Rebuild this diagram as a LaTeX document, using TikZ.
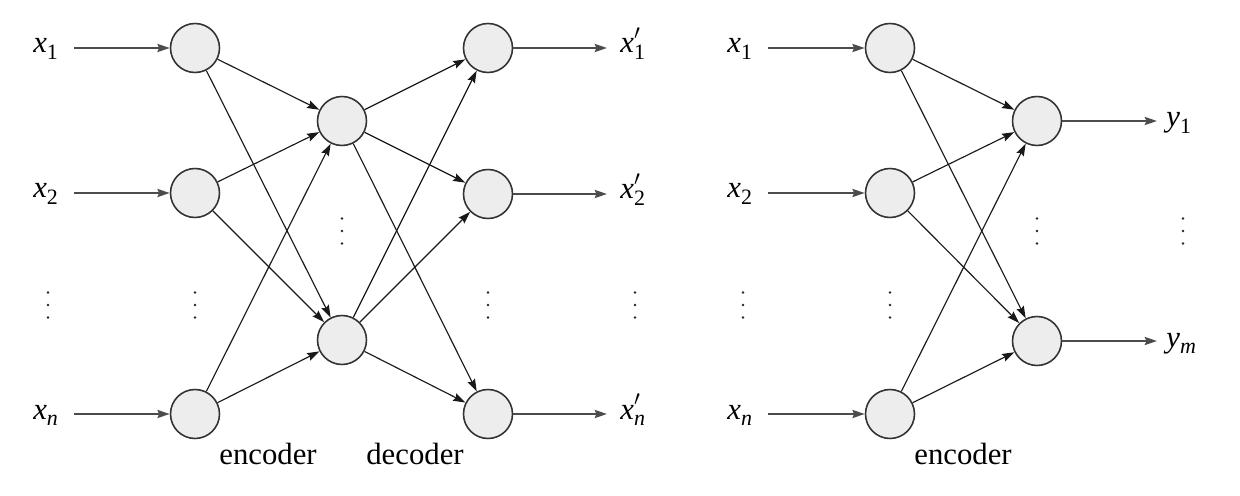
\documentclass[tikz,border=0pt]{standalone}
\usepackage{fontspec}
\setmainfont{Liberation Serif}
\usetikzlibrary{arrows.meta}

% variable with lowered index, and with prime + index
\newcommand{\var}[2]{\textit{#1}\raisebox{-0.45ex}{\fontsize{12.5}{13}\selectfont #2}}
\newcommand{\pvar}[2]{\textit{#1}\makebox[0pt][l]{\raisebox{0.95ex}{\fontsize{13}{13}\selectfont$\prime$}}\raisebox{-0.45ex}{\fontsize{12.5}{13}\selectfont #2}}
% vertical ellipsis made of three dots, centred at (#1,#2)
\newcommand{\dotcol}[2]{%
  \foreach \dy in {-12.5,0,12.5} {\fill[black!85] (#1,#2+\dy) circle (1.4);}}

\tikzset{
  neuron/.style={circle, draw=black!80, line width=0.9pt, fill=black!7,
                 minimum size=0.98cm, inner sep=0pt},
  edge/.style={draw=black!90, line width=0.65pt,
               -{Stealth[length=7pt,width=4.6pt,inset=1pt]}},
  inarrow/.style={draw=black!70, line width=1.1pt,
               -{Stealth[length=7pt,width=4.6pt,inset=1pt]}},
  lab/.style={anchor=base west, inner sep=0pt, font=\fontsize{17.5}{20}\selectfont},
  caption/.style={anchor=base, inner sep=0pt, font=\fontsize{17.5}{20}\selectfont},
}

\begin{document}
\begin{tikzpicture}[x=0.02cm,y=-0.02cm]
\useasboundingbox (0,0) rectangle (1240,496);

% ---------------- autoencoder ----------------
\node[neuron] (i1) at (195,48) {};
\node[neuron] (i2) at (195,193) {};
\node[neuron] (i3) at (195,414) {};
\node[neuron] (h1) at (342,121) {};
\node[neuron] (h2) at (342,340) {};
\node[neuron] (o1) at (488,48) {};
\node[neuron] (o2) at (488,194) {};
\node[neuron] (o3) at (488,414) {};

\node[lab] (lx1) at (33,53)  {\var{x}{1}};
\node[lab] (lx2) at (33,198) {\var{x}{2}};
\node[lab] (lxn) at (33,419) {\var{x}{\textit{n}}};
\coordinate (s1) at (74,48);
\coordinate (s2) at (74,193);
\coordinate (s3) at (74,414);
\draw[inarrow] (s1) -- (i1);
\draw[inarrow] (s2) -- (i2);
\draw[inarrow] (s3) -- (i3);

\foreach \a in {i1,i2,i3} \foreach \b in {h1,h2} \draw[edge] (\a) -- (\b);
\foreach \a in {h1,h2} \foreach \b in {o1,o2,o3} \draw[edge] (\a) -- (\b);

\coordinate (e1) at (607,48);
\coordinate (e2) at (607,194);
\coordinate (e3) at (607,414);
\draw[inarrow] (o1) -- (e1);
\draw[inarrow] (o2) -- (e2);
\draw[inarrow] (o3) -- (e3);
\node[lab] (ly1) at (620,53)  {\pvar{x}{1}};
\node[lab] (ly2) at (620,199) {\pvar{x}{2}};
\node[lab] (lyn) at (620,419) {\pvar{x}{\textit{n}}};

\dotcol{48}{305}
\dotcol{195}{305}
\dotcol{342}{231}
\dotcol{488}{305}
\dotcol{635}{305}

\node[caption] (enc1) at (268,464) {encoder};
\node[caption] (dec1) at (415,464) {decoder};

% ---------------- encoder only ----------------
\node[neuron] (r1) at (890,48) {};
\node[neuron] (r2) at (890,193) {};
\node[neuron] (r3) at (890,414) {};
\node[neuron] (q1) at (1037,121) {};
\node[neuron] (q2) at (1037,341) {};

\node[lab] (rx1) at (727,53)  {\var{x}{1}};
\node[lab] (rx2) at (727,198) {\var{x}{2}};
\node[lab] (rxn) at (727,419) {\var{x}{\textit{n}}};
\coordinate (t1) at (768,48);
\coordinate (t2) at (768,193);
\coordinate (t3) at (768,414);
\draw[inarrow] (t1) -- (r1);
\draw[inarrow] (t2) -- (r2);
\draw[inarrow] (t3) -- (r3);

\foreach \a in {r1,r2,r3} \foreach \b in {q1,q2} \draw[edge] (\a) -- (\b);

\coordinate (f1) at (1157,121);
\coordinate (f2) at (1157,341);
\draw[inarrow] (q1) -- (f1);
\draw[inarrow] (q2) -- (f2);
\node[lab] (ry1) at (1166,127) {\var{y}{1}};
\node[lab] (rym) at (1166,347) {\var{y}{\textit{m}}};

\dotcol{743}{305}
\dotcol{890}{305}
\dotcol{1037}{231}
\dotcol{1183}{231}

\node[caption] (enc2) at (963,464) {encoder};
\end{tikzpicture}
\end{document}
